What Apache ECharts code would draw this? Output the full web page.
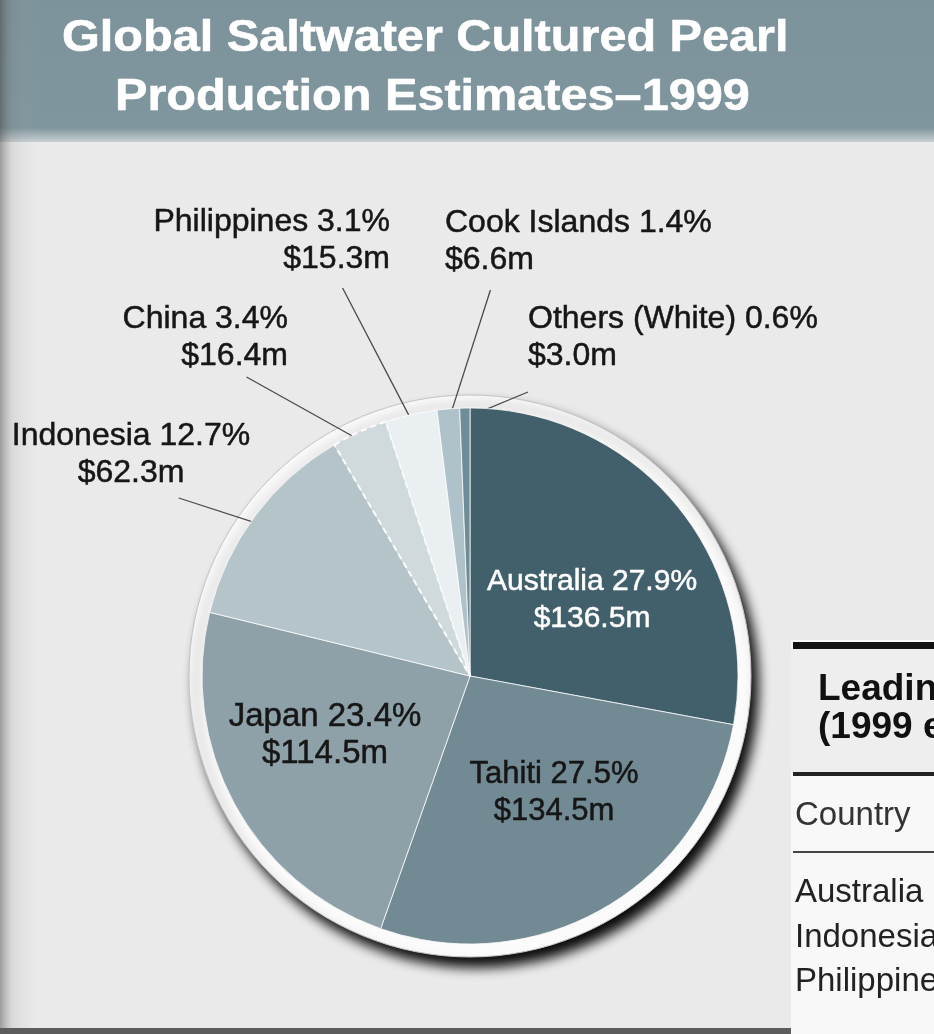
<!DOCTYPE html>
<html>
<head>
<meta charset="utf-8">
<script src="https://cdn.jsdelivr.net/npm/echarts@6/dist/echarts.min.js"></script>
<style>
html,body{margin:0;padding:0;background:#e9e9e9;}
#chart{width:934px;height:1034px;}
</style>
</head>
<body>
<div id="chart"></div>
<script>
// ---- data ----
const countries = ['Australia', 'Tahiti', 'Japan', 'Indonesia', 'China', 'Philippines', 'Cook Islands', 'Others (White)'];
const valuesUSDm = [136.5, 134.5, 114.5, 62.3, 16.4, 15.3, 6.6, 3.0];
const titleLines = ['Global Saltwater Cultured Pearl', 'Production Estimates\u20131999'];
const tableTitle = ['Leading Producers', '(1999 estimates)'];
const tableHeader = 'Country';
const tableRows = ['Australia', 'Indonesia', 'Philippines'];

// ---- styling ----
const sliceColors = ['#42606b', '#718a93', '#8ea1a8', '#b5c4c9', '#d0dadd', '#eaf0f2', '#b0c2c9', '#6f8d97'];
const insideNames = ['Australia', 'Tahiti', 'Japan'];
const labelColors = { 'Australia': '#ffffff' };
const labelSizes = { 'Australia': 30, 'Tahiti': 31, 'Japan': 33 };
// label placement: anchor x/y, alignment, and leader-line start (fraction across label, gap below)
const labelPos = {
  'Australia':      { x: 592, y: 600, align: 'center' },
  'Tahiti':         { x: 554, y: 793, align: 'center' },
  'Japan':          { x: 325, y: 735, align: 'center' },
  'Indonesia':      { x: 131, y: 455, align: 'center', fx: 0.7,  gap: 6,  inset: 20 },
  'China':          { x: 288, y: 338, align: 'right',  fx: 0.75, gap: 2,  inset: 12 },
  'Philippines':    { x: 390, y: 241, align: 'right',  fx: 0.8,  gap: 10, inset: 9 },
  'Cook Islands':   { x: 445, y: 242, align: 'left',   fx: 0.17, gap: 11, inset: 10 },
  'Others (White)': { x: 528, y: 338, align: 'left',   fx: 0.0,  gap: 17, inset: 10 }
};
const FONT = '"Liberation Sans", Arial, Helvetica, sans-serif';
const total = valuesUSDm.reduce((a, b) => a + b, 0);
const CENTER = [470, 676];

const pieData = countries.map((name, i) => {
  const inside = insideNames.indexOf(name) >= 0;
  const col = labelColors[name] || '#161616';
  const item = {
    name: name,
    value: valuesUSDm[i],
    itemStyle: { color: sliceColors[i] },
    label: { position: inside ? 'inside' : 'outside', color: col,
      fontSize: labelSizes[name] || 32, lineHeight: 37,
      textBorderColor: col, textBorderWidth: 0.5 },
    labelLine: { show: !inside }
  };
  if (name === 'China') {
    item.itemStyle.borderType = [6, 4];
    item.itemStyle.borderWidth = 2;
    item.itemStyle.borderColor = 'rgba(255,255,255,0.9)';
  }
  return item;
});

const chart = echarts.init(document.getElementById('chart'), null, { renderer: 'canvas' });

const graphics = [
  // page background & banner
  { type: 'rect', z: -10, shape: { x: 0, y: 0, width: 934, height: 1034 }, style: { fill: '#eaeaea' }, silent: true },
  { type: 'rect', z: -9, shape: { x: 0, y: 0, width: 934, height: 142 },
    style: { fill: new echarts.graphic.LinearGradient(0, 0, 0, 1, [
      { offset: 0, color: '#7c939b' }, { offset: 0.9, color: '#7f969e' }, { offset: 1, color: '#c9cfd1' }]) }, silent: true },
  { type: 'rect', z: -8, shape: { x: 0, y: 0, width: 40, height: 1034 },
    style: { fill: new echarts.graphic.LinearGradient(0, 0, 1, 0, [
      { offset: 0, color: 'rgba(60,60,60,0.45)' }, { offset: 0.3, color: 'rgba(120,120,120,0.15)' }, { offset: 1, color: 'rgba(200,200,200,0)' }]) }, silent: true },
  { type: 'rect', z: -8, shape: { x: 0, y: 1028, width: 934, height: 6 }, style: { fill: '#5c5c5c' }, silent: true },
  // title
  { type: 'text', x: 62, y: 39, scaleX: 1.08, z: 10,
    style: { text: titleLines[0], font: 'bold 45px ' + FONT, fill: '#ffffff', verticalAlign: 'middle',
      stroke: '#ffffff', lineWidth: 0.6,
      shadowColor: 'rgba(25,35,40,0.95)', shadowBlur: 3, shadowOffsetX: 2, shadowOffsetY: 3 } },
  { type: 'text', x: 115, y: 98, scaleX: 1.08, z: 10,
    style: { text: titleLines[1], font: 'bold 45px ' + FONT, fill: '#ffffff', verticalAlign: 'middle',
      stroke: '#ffffff', lineWidth: 0.6,
      shadowColor: 'rgba(25,35,40,0.95)', shadowBlur: 3, shadowOffsetX: 2, shadowOffsetY: 3 } },
  // side table (cropped at the right edge)
  { type: 'rect', z: -5, shape: { x: 791, y: 640, width: 143, height: 394 }, style: { fill: '#f8f8f8' }, silent: true },
  { type: 'rect', z: -4, shape: { x: 791, y: 649, width: 143, height: 124 }, style: { fill: '#eeeeee' }, silent: true },
  { type: 'rect', z: -3, shape: { x: 793, y: 642, width: 141, height: 7 }, style: { fill: '#111111' }, silent: true },
  { type: 'rect', z: -3, shape: { x: 793, y: 772, width: 141, height: 4 }, style: { fill: '#222222' }, silent: true },
  { type: 'rect', z: -3, shape: { x: 793, y: 851, width: 141, height: 2 }, style: { fill: '#444444' }, silent: true },
  { type: 'text', x: 818, y: 690, z: 5, style: { text: tableTitle[0], font: 'bold 37px ' + FONT, fill: '#111', verticalAlign: 'middle' } },
  { type: 'text', x: 818, y: 728, z: 5, style: { text: tableTitle[1], font: 'bold 37px ' + FONT, fill: '#111', verticalAlign: 'middle' } },
  { type: 'text', x: 795, y: 816, z: 5, style: { text: tableHeader, font: '33px ' + FONT, fill: '#333', verticalAlign: 'middle' } }
];
tableRows.forEach((t, i) => {
  graphics.push({ type: 'text', x: 795, y: 893 + i * 44.5, z: 5, style: { text: t, font: '33px ' + FONT, fill: '#222', verticalAlign: 'middle' } });
});

chart.setOption({
  backgroundColor: '#eaeaea',
  animation: false,
  graphic: graphics,
  series: [
    {
      // white rim with drop shadow behind the pie
      type: 'pie', z: 1, silent: true, center: CENTER, radius: 281,
      label: { show: false }, labelLine: { show: false },
      itemStyle: { color: '#fbfbfb', borderColor: '#c4c4c4', borderWidth: 1,
        shadowColor: 'rgba(0,0,0,0.95)', shadowBlur: 12, shadowOffsetX: 7, shadowOffsetY: 10 },
      data: [{ name: 'rim', value: total }]
    },
    {
      type: 'pie', z: 3, center: CENTER, radius: 268, startAngle: 90, clockwise: true,
      avoidLabelOverlap: false, percentPrecision: 1,
      itemStyle: { borderColor: 'rgba(255,255,255,0.75)', borderWidth: 1 },
      label: {
        show: true, fontFamily: FONT, fontSize: 32, lineHeight: 37,
        formatter: p => p.name + ' ' + p.percent.toFixed(1) + '%\n$' + p.value.toFixed(1) + 'm'
      },
      labelLine: { show: true, length: 20, length2: 10, lineStyle: { color: '#4a4a4a', width: 1.3 } },
      labelLayout: function (params) {
        const name = countries[params.dataIndex];
        const cfg = labelPos[name];
        if (!cfg) return {};
        const out = { x: cfg.x, y: cfg.y, align: cfg.align, verticalAlign: 'middle', hideOverlap: false };
        const pts = params.labelLinePoints;
        if (cfg.fx != null && pts && pts.length >= 2) {
          const w = params.labelRect.width, h = params.labelRect.height;
          const left = cfg.align === 'left' ? cfg.x : (cfg.align === 'right' ? cfg.x - w : cfg.x - w / 2);
          const top = cfg.y - h / 2;
          const start = [left + w * cfg.fx, top + h + cfg.gap];
          const dx = pts[1][0] - pts[0][0], dy = pts[1][1] - pts[0][1];
          const len = Math.sqrt(dx * dx + dy * dy) || 1;
          const end = [pts[0][0] - dx / len * cfg.inset, pts[0][1] - dy / len * cfg.inset];
          out.labelLinePoints = [start, end];
        }
        return out;
      },
      data: pieData
    }
  ]
});
</script>
</body>
</html>
